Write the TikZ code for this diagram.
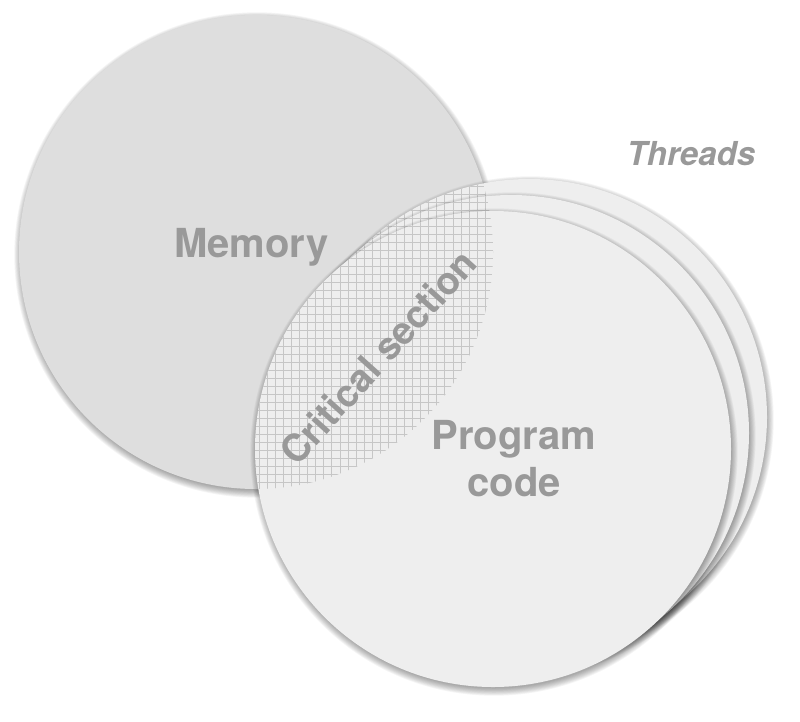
\documentclass[tikz,border=0pt]{standalone}
\usepackage{fontspec}
\setmainfont{TeX Gyre Heros}
\definecolor{memfill}{HTML}{DEDEDE}
\definecolor{thrfill}{HTML}{EEEEEE}
\definecolor{gridc}{HTML}{C6C6C6}
\definecolor{txtgray}{HTML}{999999}
\newcommand{\softshadow}[3]{%
  \foreach \k in {0,...,9}{%
    \pgfmathsetmacro\rr{#3-1.5+0.8*\k}%
    \fill[black,opacity=0.04] (#1+1,#2+3) circle (\rr pt);
  }}
\newcommand{\hatchin}[2]{%
  \begin{scope}
    \clip (256,252) circle (237pt);
    \clip (#1,#2) circle (238pt);
    \foreach \gx in {243.16,251.23,...,500}{\draw[gridline] (\gx,170) -- (\gx,495);}
    \foreach \gy in {178,186,...,490}{\draw[gridline] (240,\gy) -- (500,\gy);}
  \end{scope}}
\begin{document}
\begin{tikzpicture}[x=1pt,y=-1pt,
  gridline/.style={draw=gridc,line width=0.9pt},
  label/.style={text=txtgray,inner sep=0pt,font=\fontsize{40}{47}\selectfont\bfseries}]
\useasboundingbox (0,0) rectangle (800,721);
% memory
\softshadow{256}{252}{237}
\fill[memfill] (256,252) circle (237pt);
% threads (back to front)
\softshadow{529}{417}{238}
\fill[thrfill] (529,417) circle (238pt);
\hatchin{529}{417}
\softshadow{511}{433}{238}
\fill[thrfill] (511,433) circle (238pt);
\hatchin{511}{433}
\softshadow{493}{449}{238}
\fill[thrfill] (493,449) circle (238pt);
\hatchin{493}{449}
% labels
\node[label,anchor=base] (mem) at (251.5,257) {Memory};
\node[label,align=center,anchor=center] (prog) at (514,458.5) {Program\\code};
\node[label,rotate=48,font=\fontsize{38}{44}\selectfont\bfseries] (crit) at (378,357) {Critical section};
\node[label,anchor=base,font=\fontsize{33}{40}\selectfont\bfseries\itshape] (thr) at (691,165) {Threads};
\end{tikzpicture}
\end{document}
